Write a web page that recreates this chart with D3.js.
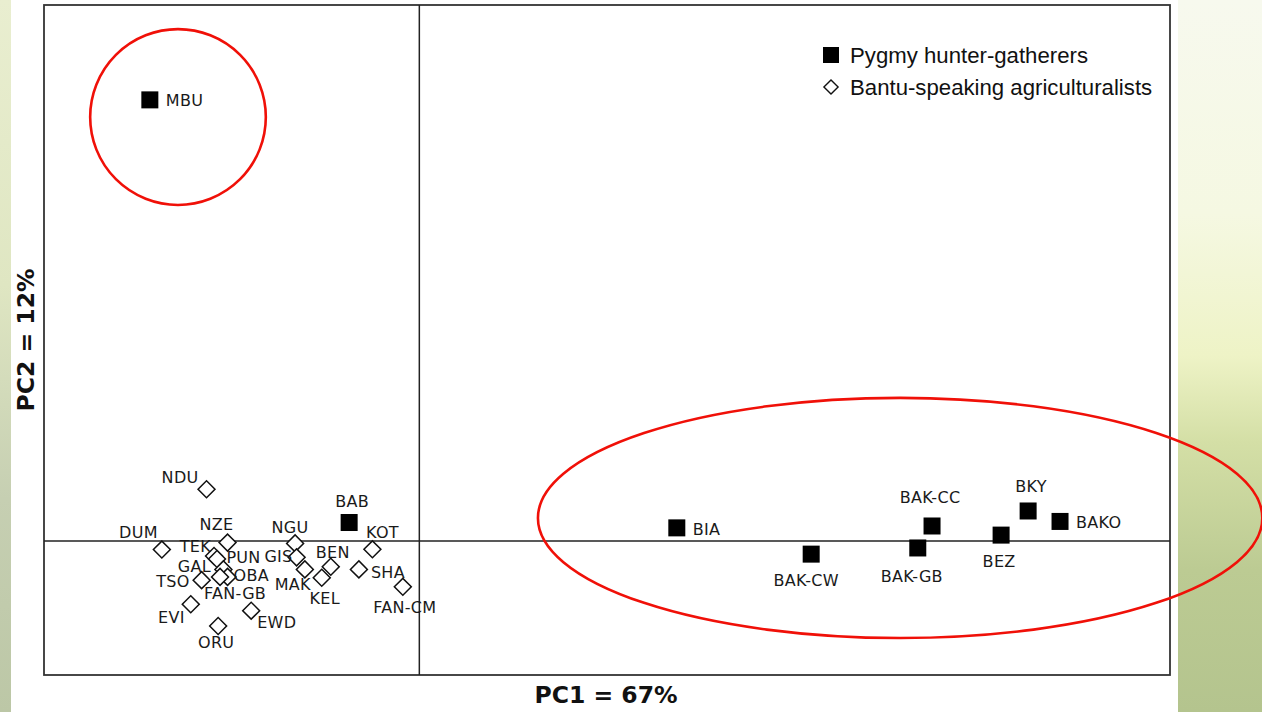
<!DOCTYPE html>
<html>
<head>
<meta charset="utf-8">
<script src="https://cdn.jsdelivr.net/npm/d3@7"></script>
<style>
  html, body { margin: 0; padding: 0; background: #fff; }
  svg { display: block; }
</style>
</head>
<body>
<div id="chart"></div>
<script>
// Pygmy hunter-gatherer populations
const pygmyNames = ['MBU', 'BAB', 'BIA', 'BAK-CW', 'BAK-GB', 'BAK-CC', 'BEZ', 'BKY', 'BAKO'];
const pygmyPC1 = [-0.718, -0.187, 0.686, 1.044, 1.328, 1.366, 1.550, 1.622, 1.707];
const pygmyPC2 = [1.646, 0.069, 0.049, -0.049, -0.026, 0.056, 0.022, 0.112, 0.073];

// Bantu-speaking agriculturalist populations
const bantuNames = ['NDU', 'NZE', 'DUM', 'TEK', 'GAL', 'PUN', 'TSO', 'OBA', 'FAN-GB', 'EVI',
  'ORU', 'EWD', 'NGU', 'GIS', 'MAK', 'BEN', 'KEL', 'KOT', 'SHA', 'FAN-CM'];
const bantuPC1 = [-0.567, -0.511, -0.686, -0.547, -0.539, -0.522, -0.580, -0.511, -0.531, -0.609,
  -0.536, -0.448, -0.331, -0.327, -0.305, -0.236, -0.260, -0.125, -0.161, -0.044];
const bantuPC2 = [0.193, -0.006, -0.032, -0.056, -0.067, -0.106, -0.146, -0.134, -0.134, -0.236,
  -0.317, -0.260, -0.009, -0.061, -0.106, -0.096, -0.137, -0.031, -0.106, -0.171];

const legendLabels = ['Pygmy hunter-gatherers', 'Bantu-speaking agriculturalists'];
const xTitle = 'PC1 = 67%';
const yTitle = 'PC2 = 12%';

// highlighted groups (centre and radii in PC units)
const ringCX = [-0.643, 1.281];
const ringCY = [1.582, 0.086];
const ringRX = [0.234, 0.965];
const ringRY = [0.328, 0.448];

// label placement: [anchor, dx, dy]
const labelPos = {
  'MBU': ['start', 16, 6], 'BAB': ['middle', 3, -16], 'BIA': ['start', 16, 7],
  'BAK-CW': ['middle', -5, 32], 'BAK-GB': ['middle', -6, 34], 'BAK-CC': ['middle', -2, -23],
  'BEZ': ['middle', -2, 32], 'BKY': ['middle', 3, -19], 'BAKO': ['start', 16, 7],
  'NDU': ['end', -8, -6], 'NZE': ['middle', -11, -13], 'DUM': ['end', -4, -12],
  'TEK': ['end', -3, -4], 'GAL': ['end', -6, 13], 'PUN': ['start', 3, -6],
  'TSO': ['end', -12, 7], 'OBA': ['start', 6, 4], 'FAN-GB': ['middle', 15, 22],
  'EVI': ['end', -6, 19], 'ORU': ['middle', -2, 22], 'EWD': ['start', 6, 17],
  'NGU': ['middle', -5, -10], 'GIS': ['end', -4, 5], 'MAK': ['middle', -12, 21],
  'BEN': ['middle', 2, -9], 'KEL': ['middle', 3, 26], 'KOT': ['middle', 10, -11],
  'SHA': ['start', 12, 9], 'FAN-CM': ['middle', 2, 26],
};

const W = 1262, H = 712;
const frame = { left: 44, top: 5, right: 1170, bottom: 675 };

const svg = d3.select('#chart').append('svg')
  .attr('width', W)
  .attr('height', H);

// background photo strips (approximated)
const defs = svg.append('defs');
const gR = defs.append('linearGradient').attr('id', 'bgR').attr('x1', 0).attr('y1', 0).attr('x2', 0).attr('y2', 1);
[[0, '#f7f9ee'], [0.3, '#f5f8e2'], [0.5, '#eef3c6'], [0.62, '#d4dfa6'], [0.8, '#bccb93'], [1, '#b4c48e']]
  .forEach(s => gR.append('stop').attr('offset', s[0]).attr('stop-color', s[1]));
const gL = defs.append('linearGradient').attr('id', 'bgL').attr('x1', 0).attr('y1', 0).attr('x2', 0).attr('y2', 1);
[[0, '#e9eed0'], [0.4, '#dfe6c2'], [0.7, '#c6cfb2'], [1, '#bcc7a6']]
  .forEach(s => gL.append('stop').attr('offset', s[0]).attr('stop-color', s[1]));

svg.append('rect').attr('x', 0).attr('y', 0).attr('width', W).attr('height', H).attr('fill', '#fff');
svg.append('rect').attr('x', 0).attr('y', 0).attr('width', 11).attr('height', H).attr('fill', 'url(#bgL)');
svg.append('rect').attr('x', 1178).attr('y', 0).attr('width', W - 1178).attr('height', H).attr('fill', 'url(#bgR)');

const x = d3.scaleLinear().domain([-1, 2]).range([frame.left, frame.right]);
const y = d3.scaleLinear().domain([-0.5, 2]).range([frame.bottom, frame.top]);

// frame and zero lines
svg.append('rect')
  .attr('x', frame.left).attr('y', frame.top)
  .attr('width', frame.right - frame.left).attr('height', frame.bottom - frame.top)
  .attr('fill', '#fff').attr('stroke', '#333').attr('stroke-width', 1.8);
svg.append('line')
  .attr('x1', x(0)).attr('x2', x(0)).attr('y1', frame.top).attr('y2', frame.bottom)
  .attr('stroke', '#222').attr('stroke-width', 1.5);
svg.append('line')
  .attr('x1', frame.left).attr('x2', frame.right).attr('y1', y(0)).attr('y2', y(0))
  .attr('stroke', '#222').attr('stroke-width', 1.5);

const labelFont = 'DejaVu Sans, Verdana, sans-serif';

// Bantu diamonds
const bantu = bantuNames.map((n, i) => ({ name: n, pc1: bantuPC1[i], pc2: bantuPC2[i] }));
const diamond = d3.symbol().type(d3.symbolSquare).size(144);
svg.append('g').selectAll('path')
  .data(bantu)
  .join('path')
    .attr('d', diamond)
    .attr('transform', d => `translate(${x(d.pc1)},${y(d.pc2)}) rotate(45)`)
    .attr('fill', '#fff')
    .attr('stroke', '#111')
    .attr('stroke-width', 1.5);

// Pygmy squares
const pygmy = pygmyNames.map((n, i) => ({ name: n, pc1: pygmyPC1[i], pc2: pygmyPC2[i] }));
svg.append('g').selectAll('rect')
  .data(pygmy)
  .join('rect')
    .attr('x', d => x(d.pc1) - 8.5)
    .attr('y', d => y(d.pc2) - 8.5)
    .attr('width', 17)
    .attr('height', 17)
    .attr('fill', '#000');

// point labels
svg.append('g').selectAll('text')
  .data(bantu.concat(pygmy))
  .join('text')
    .attr('x', d => x(d.pc1) + labelPos[d.name][1])
    .attr('y', d => y(d.pc2) + labelPos[d.name][2])
    .attr('text-anchor', d => labelPos[d.name][0])
    .attr('font-family', labelFont)
    .attr('font-size', 16)
    .attr('letter-spacing', 0.3)
    .attr('fill', '#1a1a1a')
    .text(d => d.name);

// red rings
svg.append('g').selectAll('ellipse')
  .data(ringCX.map((c, i) => i))
  .join('ellipse')
    .attr('cx', i => x(ringCX[i]))
    .attr('cy', i => y(ringCY[i]))
    .attr('rx', i => x(ringRX[i]) - x(0))
    .attr('ry', i => y(0) - y(ringRY[i]))
    .attr('fill', 'none')
    .attr('stroke', '#f01008')
    .attr('stroke-width', 2.6);

// legend
const legend = svg.append('g').attr('transform', 'translate(831,55)');
legend.append('rect').attr('x', -8).attr('y', -8).attr('width', 16).attr('height', 16).attr('fill', '#000');
legend.append('path').attr('d', d3.symbol().type(d3.symbolSquare).size(100))
  .attr('transform', 'translate(0,32) rotate(45)')
  .attr('fill', '#fff').attr('stroke', '#111').attr('stroke-width', 1.4);
legend.selectAll('text')
  .data(legendLabels)
  .join('text')
    .attr('x', 19)
    .attr('y', (d, i) => 8 + i * 32)
    .attr('font-family', 'Liberation Sans, Arial, sans-serif')
    .attr('font-size', 22.2)
    .attr('fill', '#111')
    .text(d => d);

// axis titles
svg.append('text')
  .attr('x', 606).attr('y', 703)
  .attr('text-anchor', 'middle')
  .attr('font-family', labelFont)
  .attr('font-weight', 'bold')
  .attr('font-size', 23.5)
  .attr('fill', '#111')
  .text(xTitle);
svg.append('text')
  .attr('transform', 'translate(34,340) rotate(-90)')
  .attr('text-anchor', 'middle')
  .attr('font-family', labelFont)
  .attr('font-weight', 'bold')
  .attr('font-size', 23.5)
  .attr('fill', '#111')
  .text(yTitle);
</script>
</body>
</html>
